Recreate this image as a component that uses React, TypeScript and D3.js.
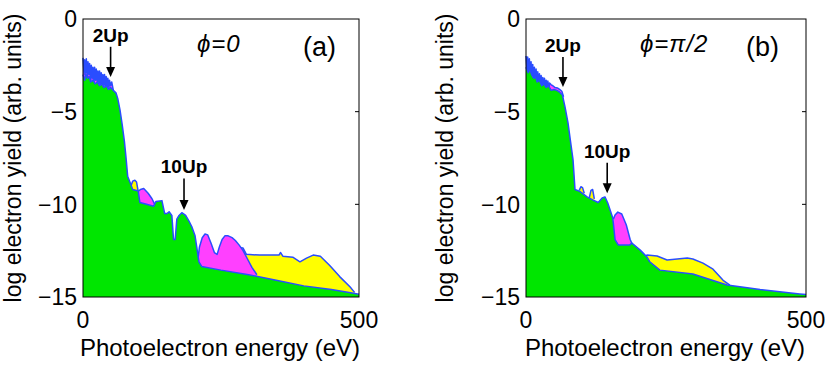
import React from 'react';
import * as d3 from 'd3';

type Pt = [number, number] | null;

// axis ticks
const energyTicks = [0, 500];
const yieldTicks = [0, -5, -10, -15];
const innerTicks = [-5, -10];

// panel (a): phi = 0
const greenA: Pt[] = [
  [0, -3.0], [3, -3.3], [5, -2.95], [8, -3.2], [11, -3.1], [14, -3.4], [18, -3.3], [22, -3.5],
  [26, -3.4], [30, -3.6], [34, -3.5], [38, -3.7], [42, -3.6], [46, -3.8], [50, -3.7], [55, -3.85],
  [60, -4.0], [63, -4.3], [67, -4.9], [71, -5.7], [75, -6.6], [78, -7.5], [81, -8.5], [85, -8.8],
  [90, -9.2], [97, -9.25], [100, -9.3], [103, -9.9], [115, -10.0], [128, -10.1], [132, -9.85], [143, -9.8],
  [148, -10.5], [152, -10.5], [156, -10.4], [161, -10.6], [164, -11.9], [167, -11.9], [170, -10.8],
  [174, -10.6], [179, -10.45], [186, -10.6], [192, -10.9], [197, -11.2], [203, -11.7], [206, -12.3],
  [210, -13.1], [215, -13.35], [250, -13.55], [300, -13.8], [350, -14.1], [400, -14.4], [450, -14.6],
  [490, -14.8], [500, -14.85],
];
const magentaA: Pt[] = [
  [0, -2.1], [2, -3.0], [3, -2.2], [5, -2.9], [6, -2.15], [8, -3.1], [9, -2.3], [11, -3.0], [12, -2.4],
  [14, -3.3], [15, -2.5], [17, -3.2], [18, -2.6], [20, -3.4], [21, -2.6], [23, -3.3], [24, -2.7],
  [26, -3.4], [27, -2.8], [29, -3.5], [30, -2.8], [32, -3.5], [33, -2.9], [35, -3.6], [36, -3.0],
  [38, -3.6], [39, -3.0], [41, -3.6], [42, -3.1], [44, -3.7], [45, -3.2], [47, -3.7], [48, -3.3],
  [50, -3.6], [52, -3.4], [55, -3.85],
  null,
  [100, -9.3], [104, -9.2], [110, -9.15], [118, -9.4], [125, -9.7], [130, -10.0],
  null,
  [208, -13.0], [211, -12.3], [216, -11.8], [221, -11.6], [226, -11.65], [232, -12.1], [238, -12.6],
  [243, -12.7], [247, -12.3], [252, -11.9], [257, -11.7], [263, -11.7], [270, -11.8], [276, -11.95],
  [283, -12.2], [290, -12.5], [298, -12.95], [306, -13.4], [315, -13.8],
];
const yellowA: Pt[] = [
  [87, -9.0], [90, -8.75], [94, -8.7], [97, -8.8], [100, -9.3],
  null,
  [275, -12.3], [290, -12.36], [296, -12.7], [320, -12.74], [355, -12.74], [358, -12.6], [362, -12.8],
  [380, -12.85], [393, -13.1], [405, -12.9], [417, -12.74], [430, -12.8], [447, -13.3], [465, -13.9],
  [484, -14.46], [492, -14.75],
];

// panel (b): phi = pi/2
const greenB: Pt[] = [
  [0, -2.6], [4, -2.9], [7, -2.7], [10, -3.0], [14, -3.2], [17, -3.1], [20, -3.4], [24, -3.3],
  [28, -3.6], [32, -3.5], [36, -3.7], [40, -3.6], [45, -3.85], [50, -3.8], [55, -3.85], [60, -3.95],
  [65, -4.1], [70, -4.8], [75, -5.6], [79, -6.5], [84, -7.6], [87.5, -9.2], [96, -9.3], [109, -9.6],
  [120, -9.77], [129, -9.9], [136, -9.66], [141, -9.6], [146, -9.93], [155, -10.74], [159, -11.9],
  [165, -12.2], [185, -12.2], [189, -12.09], [204, -12.47], [216, -12.84], [221, -13.1], [239, -13.55],
  [298, -13.76], [359, -14.35], [418, -14.6], [489, -14.84], [500, -14.87],
];
const magentaB: Pt[] = [
  [0, -2.0], [2, -2.8], [3, -2.05], [5, -3.0], [6, -2.15], [8, -3.2], [9, -2.3], [11, -3.4], [12, -2.45],
  [14, -3.5], [15, -2.6], [17, -3.6], [18, -2.7], [20, -3.7], [21, -2.85], [23, -3.7], [24, -2.95],
  [26, -3.8], [27, -3.05], [29, -3.8], [30, -3.15], [32, -3.9], [33, -3.2], [35, -3.9], [36, -3.3],
  [38, -3.9], [39, -3.35], [41, -3.8], [42, -3.45], [45, -3.55], [48, -3.6], [52, -3.7], [56, -3.72],
  [60, -3.8], [64, -3.9], [67, -4.2],
  null,
  [156, -10.8], [159, -10.58], [164, -10.42], [171, -10.52], [179, -11.1], [186, -11.9], [189, -12.1],
];
const yellowB: Pt[] = [
  [95, -9.25], [98, -9.05], [101, -9.1], [104, -9.4],
  null,
  [113, -9.65], [116, -9.25], [119, -9.2], [122, -9.7],
  null,
  [212, -12.84], [216, -12.74], [234, -12.79], [252, -13.0], [270, -12.95], [288, -12.9], [298, -12.95],
  [316, -13.17], [334, -13.5], [352, -14.1], [364, -14.36],
];

// arrows: [label, energy, tail, tip]
const notesA: [string, number, number, number][] = [['2Up', 50, -1.5, -3.13], ['10Up', 183, -8.6, -10.3]];
const notesB: [string, number, number, number][] = [['2Up', 66, -2.05, -3.67], ['10Up', 145, -7.75, -9.4]];

const GREEN = '#00e600';
const MAGENTA = '#ff40ff';
const YELLOW = '#ffff00';
const BLUE = '#2a4dff';
const FONT = 'Liberation Sans, Arial, Helvetica, sans-serif';

const Panel = ({ left, right, top, bottom, green, magenta, yellow, notes, phi, tag, labelX }: any) => {
  const x = d3.scaleLinear().domain([0, 500]).range([left, right]);
  const y = d3.scaleLinear().domain([0, -15]).range([top, bottom]);

  const area = d3.area<Pt>()
    .defined((d) => d !== null)
    .x((d) => x(d![0]))
    .y0(y(-15))
    .y1((d) => y(d![1]));
  const line = d3.line<Pt>()
    .defined((d) => d !== null)
    .x((d) => x(d![0]))
    .y((d) => y(d![1]));

  const layers = [[yellow, YELLOW], [magenta, MAGENTA], [green, GREEN]];

  return (
    <g>
      {layers.map(([data, col]: any, i) => (
        <g key={i}>
          <path d={area(data) || ''} fill={col} />
          <path d={line(data) || ''} fill="none" stroke={BLUE} strokeWidth={1.5} strokeLinejoin="round" />
        </g>
      ))}

      <rect x={left} y={top} width={right - left} height={bottom - top} fill="none" stroke="#000" strokeWidth={1} />
      {innerTicks.map((t) => (
        <line key={t} x1={right} x2={right - 4} y1={y(t)} y2={y(t)} stroke="#000" />
      ))}

      {yieldTicks.map((t) => (
        <text key={t} x={left - 6} y={y(t)} dy="0.36em" textAnchor="end" fontSize={23} fontFamily={FONT}>
          {t === 0 ? '0' : '\u2212' + Math.abs(t)}
        </text>
      ))}
      {energyTicks.map((t) => (
        <text key={t} x={x(t)} y={bottom + 31} textAnchor="middle" fontSize={23} fontFamily={FONT}>
          {t}
        </text>
      ))}

      <text x={(left + right) / 2 - 1} y={bottom + 59} textAnchor="middle" fontSize={24} fontFamily={FONT}>
        Photoelectron energy (eV)
      </text>
      <text transform={`translate(${labelX},${(top + bottom) / 2}) rotate(-90)`} textAnchor="middle" fontSize={23} fontFamily={FONT}>
        log electron yield (arb. units)
      </text>

      {notes.map(([label, e, tail, tip]: any) => (
        <g key={label}>
          <text x={x(e)} y={y(tail) - 5} textAnchor="middle" fontSize={19} fontWeight="bold" fontFamily={FONT}>
            {label}
          </text>
          <line x1={x(e)} x2={x(e)} y1={y(tail)} y2={y(tip) - 8} stroke="#000" strokeWidth={1.6} />
          <path d={`M${x(e) - 4.5},${y(tip) - 10} L${x(e) + 4.5},${y(tip) - 10} L${x(e)},${y(tip)} Z`} fill="#000" />
        </g>
      ))}

      <text x={left + 114} y={top + 33} fontSize={24} fontStyle="italic" letterSpacing={1} fontFamily={FONT}>{phi}</text>
      <text x={left + 220} y={top + 37} fontSize={27} fontFamily={FONT}>{tag}</text>
    </g>
  );
};

export default function App() {
  return (
    <svg width={830} height={371} style={{ position: 'absolute', left: 0, top: 0, background: '#fff' }}>
      <Panel left={83} right={359} top={19} bottom={297} green={greenA} magenta={magentaA} yellow={yellowA}
        notes={notesA} phi={'\u03d5=0'} tag="(a)" labelX={21} />
      <Panel left={526} right={806} top={19} bottom={297} green={greenB} magenta={magentaB} yellow={yellowB}
        notes={notesB} phi={'\u03d5=\u03c0/2'} tag="(b)" labelX={453} />
    </svg>
  );
}
